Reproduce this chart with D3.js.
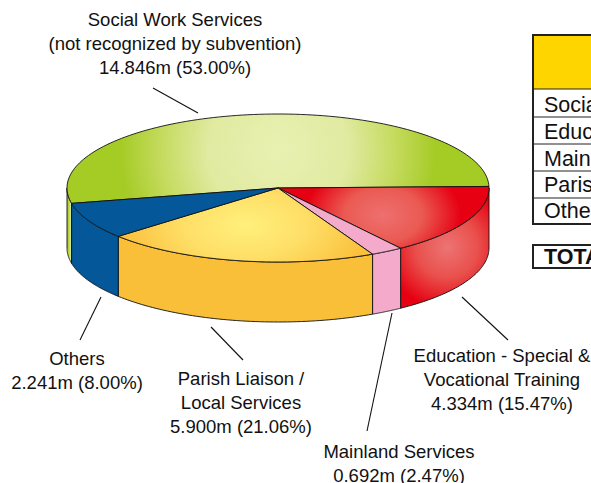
<!DOCTYPE html>
<html>
<head>
<meta charset="utf-8">
<script src="https://cdn.jsdelivr.net/npm/d3@7"></script>
<style>
  html, body { margin: 0; padding: 0; background: #fff; overflow: hidden; }
  text { font-family: "Liberation Sans", Arial, sans-serif; fill: #111; }
</style>
</head>
<body>
<div id="chart"></div>
<script type="text/javascript">
  const width = 591, height = 483;

  // slices, clockwise from the right hand edge of the green one
  const categories = ['Social Work Services', 'Education - Special & Vocational Training', 'Mainland Services', 'Parish Liaison / Local Services', 'Others'];
  const values = [14.846, 4.334, 0.692, 5.900, 2.241];
  const percents = [53.00, 15.47, 2.47, 21.06, 8.00];
  const tableRows = ['Social Work Services', 'Education - Special & Vocational Training', 'Mainland Services', 'Parish Liaison / Local Services', 'Others'];
  const totalLabel = 'TOTAL';

  const labelLines = [
    ['Social Work Services', '(not recognized by subvention)'],
    ['Education - Special &', 'Vocational Training'],
    ['Mainland Services'],
    ['Parish Liaison /', 'Local Services'],
    ['Others']
  ];
  const labelPos = [[175, 26], [502, 362], [399, 458], [241, 385], [77, 365]];
  const leaders = [[[153, 88], [198, 113]], [[462, 297], [508, 340]], [[392, 313], [367, 431]], [[211, 327], [243, 360]], [[101, 297], [80, 340]]];

  const cx = 278, cy = 188, rx = 211, ry = 74, depth = 60;
  const startDeg = 258;

  const svg = d3.select('#chart').append('svg')
    .attr('width', width)
    .attr('height', height);

  const defs = svg.append('defs');

  function radial(id, stops, gx, gy, gr, sy) {
    const g = defs.append('radialGradient')
      .attr('id', id)
      .attr('gradientUnits', 'userSpaceOnUse')
      .attr('cx', 0).attr('cy', 0).attr('r', 1)
      .attr('gradientTransform', 'translate(' + gx + ',' + gy + ') scale(' + gr + ',' + (gr * sy) + ')');
    stops.forEach(function(s) {
      g.append('stop').attr('offset', s[0]).attr('stop-color', s[1]);
    });
  }

  radial('topGreen', [[0, '#e9f1b2'], [0.45, '#e0eaa0'], [0.75, '#c4da5c'], [1, '#a5cb25']], 278, 150, 158, 1);
  radial('topRed', [[0, '#ee7070'], [0.5, '#ea5a52'], [1, '#e60012']], 383, 215, 78, 0.7);
  radial('topYellow', [[0, '#fff07c'], [0.5, '#fede66'], [1, '#fbc03c']], 245, 225, 125, 0.55);
  radial('sideRed', [[0, '#ec7474'], [0.5, '#e9504c'], [1, '#e60012']], 447, 247, 62, 1);

  const sliverGrad = defs.append('linearGradient')
    .attr('id', 'sideGreen').attr('x1', 0).attr('y1', 0).attr('x2', 1).attr('y2', 0);
  sliverGrad.append('stop').attr('offset', 0).attr('stop-color', '#a5cb25');
  sliverGrad.append('stop').attr('offset', 0.45).attr('stop-color', '#b9d544');
  sliverGrad.append('stop').attr('offset', 1).attr('stop-color', '#eef3c0');

  const topFill = ['url(#topGreen)', 'url(#topRed)', '#f3aacb', 'url(#topYellow)', '#04589a'];
  const sideFill = ['url(#sideGreen)', 'url(#sideRed)', '#f3aacb', '#f9bf38', '#04589a'];

  const pie = d3.pie().sort(null)
    .startAngle(startDeg * Math.PI / 180)
    .endAngle((startDeg + 360) * Math.PI / 180);
  const slices = pie(values);

  // screen position for a pie angle, with 0 at twelve o'clock
  const px = a => cx + rx * Math.sin(a);
  const py = (a, dz) => cy - ry * Math.cos(a) + dz;

  const sideLine = d3.line();
  const minFront = Math.PI / 2, maxFront = Math.PI * 1.5;

  function sidePath(s) {
    // only the part of the slice that faces the viewer
    let a0 = s.startAngle, a1 = s.endAngle;
    const ranges = [[a0, a1], [a0 + 2 * Math.PI, a1 + 2 * Math.PI], [a0 - 2 * Math.PI, a1 - 2 * Math.PI]];
    let out = '';
    ranges.forEach(function(r) {
      const lo = Math.max(r[0], minFront), hi = Math.min(r[1], maxFront);
      if (hi <= lo) return;
      const steps = d3.range(0, 61).map(i => lo + (hi - lo) * i / 60);
      const pts = steps.map(a => [px(a), py(a, 0)])
        .concat(steps.slice().reverse().map(a => [px(a), py(a, depth)]));
      out += sideLine(pts) + 'Z';
    });
    return out;
  }

  // side walls
  svg.append('g').selectAll('path')
    .data(slices)
    .enter().append('path')
    .attr('d', sidePath)
    .attr('fill', (d, i) => sideFill[i])
    .attr('stroke', '#111')
    .attr('stroke-width', 0.9)
    .attr('stroke-linejoin', 'round');

  // top face, squashed circle
  const topFace = slices.map(function(s) {
    const steps = d3.range(0, 121).map(i => s.startAngle + (s.endAngle - s.startAngle) * i / 120);
    return [[cx, cy]].concat(steps.map(a => [px(a), py(a, 0)]));
  });

  svg.append('g').selectAll('path')
    .data(topFace)
    .enter().append('path')
    .attr('d', d => sideLine(d) + 'Z')
    .attr('fill', (d, i) => topFill[i])
    .attr('stroke', '#111')
    .attr('stroke-width', 0.9)
    .attr('stroke-linejoin', 'round');

  // leader lines
  svg.append('g').selectAll('line')
    .data(leaders)
    .enter().append('line')
    .attr('x1', d => d[0][0]).attr('y1', d => d[0][1])
    .attr('x2', d => d[1][0]).attr('y2', d => d[1][1])
    .attr('stroke', '#111')
    .attr('stroke-width', 1.1);

  // slice labels
  const labels = svg.append('g').attr('text-anchor', 'middle').attr('font-size', 18.5);
  categories.forEach(function(c, i) {
    const t = labels.append('text').attr('x', labelPos[i][0]).attr('y', labelPos[i][1]);
    labelLines[i].concat([values[i].toFixed(3) + 'm (' + percents[i].toFixed(2) + '%)']).forEach(function(line, j) {
      t.append('tspan')
        .attr('x', labelPos[i][0])
        .attr('y', labelPos[i][1] + j * 24)
        .text(line);
    });
  });

  // table, runs off the right of the page
  const rowEdges = [89, 117, 144, 171, 198, 224];
  const rowBase = [112, 139, 166, 192, 218];
  const table = svg.append('g');
  table.append('rect')
    .attr('x', 533).attr('y', 35).attr('width', 200).attr('height', 54)
    .attr('fill', '#ffd500');
  table.selectAll('line.row')
    .data(rowEdges.slice(0, -1))
    .enter().append('line')
    .attr('class', 'row')
    .attr('x1', 533).attr('x2', 733)
    .attr('y1', d => d).attr('y2', d => d)
    .attr('stroke', '#222').attr('stroke-width', 1);
  table.append('rect')
    .attr('x', 533).attr('y', 35).attr('width', 200).attr('height', 189)
    .attr('fill', 'none').attr('stroke', '#222').attr('stroke-width', 2);
  table.selectAll('text.row')
    .data(tableRows)
    .enter().append('text')
    .attr('class', 'row')
    .attr('x', 544)
    .attr('y', (d, i) => rowBase[i])
    .attr('font-size', 21.5)
    .text(d => d);
  table.append('rect')
    .attr('x', 533).attr('y', 245).attr('width', 200).attr('height', 23)
    .attr('fill', 'none').attr('stroke', '#222').attr('stroke-width', 2);
  table.append('text')
    .attr('x', 544).attr('y', 264)
    .attr('font-size', 21.5).attr('font-weight', 'bold')
    .text(totalLabel);
</script>
</body>
</html>
